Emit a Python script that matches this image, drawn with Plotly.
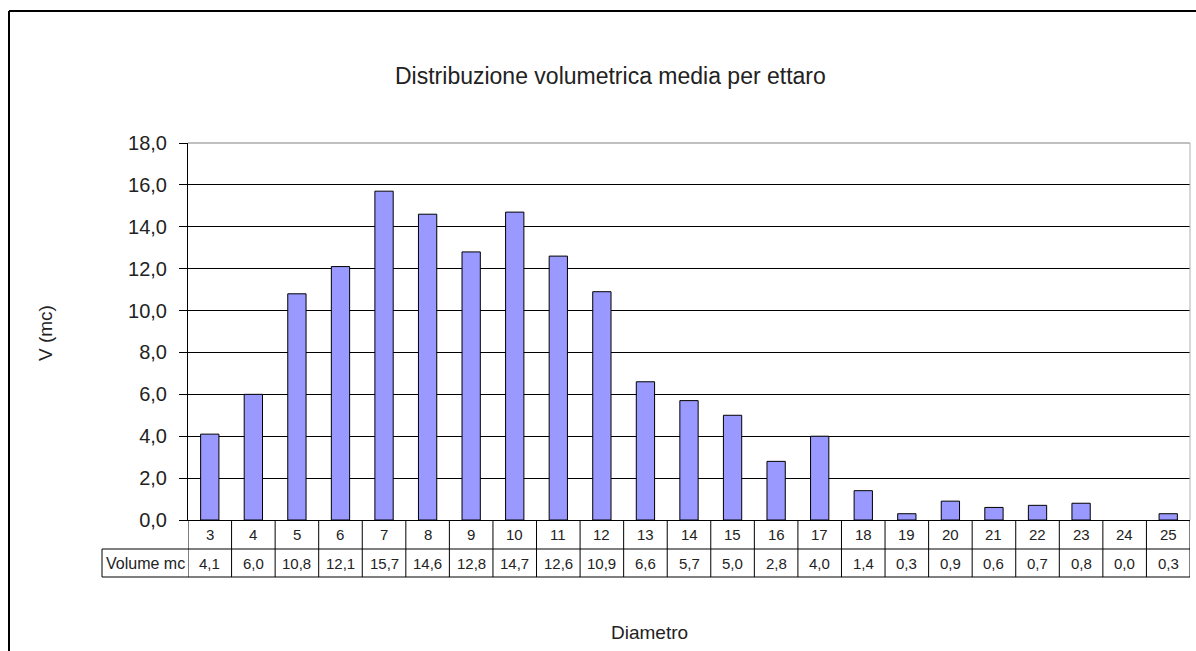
import plotly.graph_objects as go

W, H = 1196, 651

categories = ["3", "4", "5", "6", "7", "8", "9", "10", "11", "12", "13", "14",
              "15", "16", "17", "18", "19", "20", "21", "22", "23", "24", "25"]
volumes = [4.1, 6.0, 10.8, 12.1, 15.7, 14.6, 12.8, 14.7, 12.6, 10.9, 6.6, 5.7,
           5.0, 2.8, 4.0, 1.4, 0.3, 0.9, 0.6, 0.7, 0.8, 0.0, 0.3]
y_ticks = [0, 2, 4, 6, 8, 10, 12, 14, 16, 18]

title_text = "Distribuzione volumetrica media per ettaro"
y_title = "V (mc)"
x_title = "Diametro"
row_label = "Volume mc"

FONT = "Arial, Liberation Sans, sans-serif"
TXT = "#222222"

def px(x):
    return x / W

def py(y):
    return 1 - y / H

# plot area in pixels
PL, PR, PT, PB = 188, 1190, 143, 520
ROW1_B, ROW2_B = 549, 577
LABEL_L = 102

fig = go.Figure()
fig.add_trace(go.Bar(
    x=categories, y=volumes,
    width=0.42,
    marker=dict(color="#9999FF",
                line=dict(color="#000000",
                          width=[1 if v > 0 else 0 for v in volumes])),
    showlegend=False, hoverinfo="x+y",
))

shapes = []
n = len(categories)
for i in range(n + 1):
    shapes.append(dict(type="line", xref="x", yref="paper",
                       x0=i - 0.5, x1=i - 0.5, y0=py(PB), y1=py(ROW2_B),
                       line=dict(color="#000000", width=1)))
for yy in (ROW1_B, ROW2_B):
    shapes.append(dict(type="line", xref="paper", yref="paper",
                       x0=px(LABEL_L), x1=px(PR), y0=py(yy), y1=py(yy),
                       line=dict(color="#000000", width=1)))
shapes.append(dict(type="line", xref="paper", yref="paper",
                   x0=px(LABEL_L), x1=px(LABEL_L), y0=py(ROW1_B), y1=py(ROW2_B),
                   line=dict(color="#000000", width=1)))
shapes.append(dict(type="line", xref="paper", yref="paper",
                   x0=px(PL), x1=px(PR), y0=py(PT), y1=py(PT),
                   line=dict(color="#808080", width=1)))
shapes.append(dict(type="line", xref="paper", yref="paper",
                   x0=px(PR), x1=px(PR), y0=py(PT), y1=py(PB),
                   line=dict(color="#b0b0b0", width=1)))
shapes.append(dict(type="line", xref="paper", yref="paper",
                   x0=px(9), x1=px(9), y0=py(11), y1=-0.05,
                   line=dict(color="#000000", width=2)))
shapes.append(dict(type="line", xref="paper", yref="paper",
                   x0=px(9), x1=1.05, y0=py(11), y1=py(11),
                   line=dict(color="#000000", width=2)))

def ann(x, y, text, size, xref="paper", angle=0):
    return dict(x=x, xref=xref, y=y, yref="paper", text=text, showarrow=False,
                xanchor="center", yanchor="middle", textangle=angle,
                font=dict(family=FONT, size=size, color=TXT))

annotations = []
for i, (c, v) in enumerate(zip(categories, volumes)):
    annotations.append(ann(i, py((PB + ROW1_B) / 2), c, 15, xref="x"))
    annotations.append(ann(i, py((ROW1_B + ROW2_B) / 2),
                           f"{v:.1f}".replace(".", ","), 15, xref="x"))
annotations.append(ann(px((LABEL_L + PL) / 2), py((ROW1_B + ROW2_B) / 2), row_label, 16))
annotations.append(ann(px(610), py(76), title_text, 23))
annotations.append(ann(px(45), py(333), y_title, 19, angle=-90))
annotations.append(ann(px(649), py(632), x_title, 19))

fig.update_layout(
    width=W, height=H,
    autosize=False,
    margin=dict(l=0, r=0, t=0, b=0, pad=0, autoexpand=False),
    paper_bgcolor="#ffffff", plot_bgcolor="#ffffff",
    separators=",.",
    showlegend=False,
    xaxis=dict(
        domain=[px(PL), px(PR)],
        type="category",
        range=[-0.5, n - 0.5],
        automargin=False,
        showticklabels=False, ticks="",
        showgrid=False, zeroline=False,
        showline=True, linecolor="#000000", linewidth=1,
        fixedrange=True,
    ),
    yaxis=dict(
        domain=[py(PB), py(PT)],
        range=[0, 18],
        automargin=False,
        tickvals=y_ticks, tickformat=".1f",
        ticks="outside", ticklen=8, tickcolor="#000000",
        showgrid=True, gridcolor="#000000", gridwidth=1,
        zeroline=False,
        showline=True, linecolor="#000000", linewidth=1,
        tickfont=dict(family=FONT, size=20, color=TXT),
        ticklabelstandoff=8,
        fixedrange=True,
    ),
    shapes=shapes,
    annotations=annotations,
)

fig.write_html("out.html")
